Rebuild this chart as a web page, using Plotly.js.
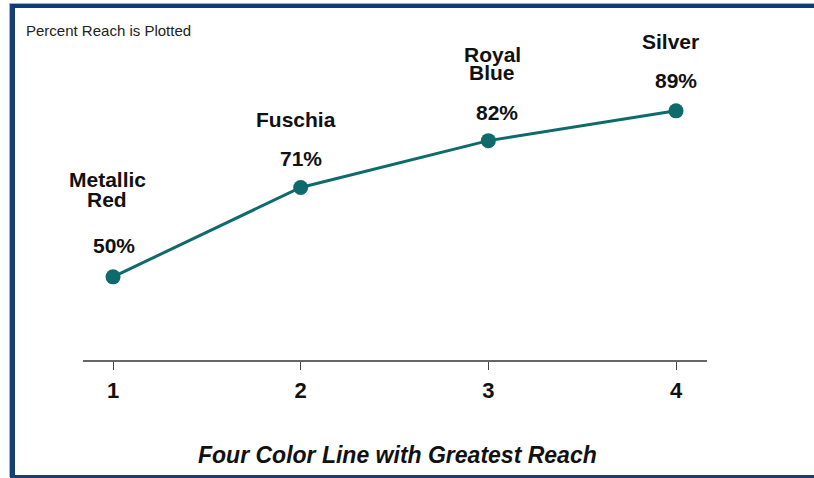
<!DOCTYPE html>
<html>
<head>
<meta charset="utf-8">
<script src="https://cdn.plot.ly/plotly-3.0.1.min.js"></script>
<style>
  html, body { margin: 0; padding: 0; background: #fff; }
  #wrap { position: relative; width: 814px; height: 478px; overflow: hidden; background: #fff; }
  #chart { position: absolute; left: 0; top: 0; width: 814px; height: 478px; }
  #frame {
    position: absolute; left: 10px; top: 4px; width: 820px; height: 474px;
    border-left: 5px solid #163f73; border-top: 4px solid #0d3a78; border-bottom: 3px solid #1d3f66;
    box-shadow: -1px -1px 0 #9fb3c8;
    pointer-events: none; box-sizing: border-box;
  }
</style>
</head>
<body>
<div id="wrap">
  <div id="chart"></div>
  <div id="frame"></div>
</div>
<script>
// ---- data ----
const positions = [1, 2, 3, 4];
const reach = [50, 71, 82, 89];
const colorNameLines = [["Metallic", "Red"], ["Fuschia"], ["Royal", "Blue"], ["Silver"]];
const tickLabels = ["1", "2", "3", "4"];
const chartTitle = "Four Color Line with Greatest Reach";
const noteText = "Percent Reach is Plotted";

// ---- label placement (pixel offsets from each point) ----
const nameLineShiftY = [[97, 77], [68], [86, 68], [69]];
const nameShiftX = [-6, -5, 4, -6];
const pctShiftY = [31, 29, 28, 30];
const pctShiftX = [1, 0, 9, 0];

const lineColor = "#0f6b6b";
const font = "Liberation Sans, Arial, sans-serif";
const labelSize = 21;

const annotations = [];
positions.forEach((p, i) => {
  annotations.push({
    x: p, y: reach[i], xref: "x", yref: "y",
    text: "<b>" + reach[i] + "%</b>", showarrow: false,
    yanchor: "middle", xanchor: "center",
    xshift: pctShiftX[i], yshift: pctShiftY[i],
    font: {family: font, size: labelSize, color: "#111"}
  });
  colorNameLines[i].forEach((ln, j) => {
    annotations.push({
      x: p, y: reach[i], xref: "x", yref: "y",
      text: "<b>" + ln + "</b>", showarrow: false,
      yanchor: "middle", xanchor: "center",
      xshift: nameShiftX[i], yshift: nameLineShiftY[i][j],
      font: {family: font, size: labelSize, color: "#111"}
    });
  });
});

const L = 83, R = 107, T = 62, B = 118, W = 814, H = 478;
const pw = W - L - R, ph = H - T - B;
annotations.push({
  x: (24 - L) / pw, y: (H - B - 31) / ph, xref: "paper", yref: "paper",
  xanchor: "left", yanchor: "middle", text: noteText,
  showarrow: false, font: {family: font, size: 15, color: "#222"}
});
annotations.push({
  x: (397 - L) / pw, y: (H - B - 455) / ph, xref: "paper", yref: "paper",
  xanchor: "center", yanchor: "middle",
  text: "<b><i>" + chartTitle + "</i></b>",
  showarrow: false, font: {family: font, size: 23, color: "#111"}
});

const trace = {
  x: positions, y: reach, type: "scatter", mode: "lines+markers",
  line: {color: lineColor, width: 3},
  marker: {color: lineColor, size: 15},
  cliponaxis: false, hoverinfo: "skip"
};

const layout = {
  width: W, height: H,
  margin: {l: L, r: R, t: T, b: B},
  paper_bgcolor: "#fff", plot_bgcolor: "#fff",
  showlegend: false,
  xaxis: {
    range: [0.84, 4.165], tickvals: positions, ticktext: tickLabels,
    showgrid: false, zeroline: false, showline: true, linecolor: "#666", linewidth: 2,
    ticks: "outside", ticklen: 8, tickcolor: "#444", tickwidth: 1,
    ticklabelstandoff: 2,
    tickfont: {family: font, size: 22, color: "#111", weight: "bold"}
  },
  yaxis: {
    range: [30.47, 100.47], visible: false, showgrid: false, zeroline: false
  },
  annotations: annotations
};

Plotly.newPlot("chart", [trace], layout, {staticPlot: true, displayModeBar: false});
</script>
</body>
</html>
